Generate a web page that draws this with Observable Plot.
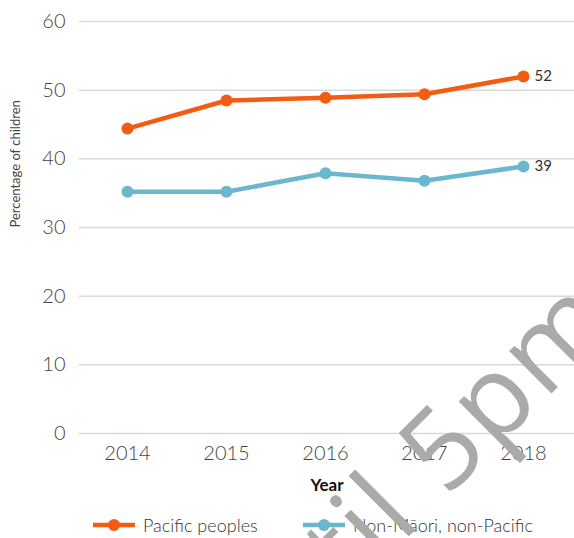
<!DOCTYPE html>
<html>
<head>
<meta charset="utf-8">
<script src="https://cdn.jsdelivr.net/npm/d3@7"></script>
<script src="https://cdn.jsdelivr.net/npm/@observablehq/plot@0.6"></script>
<style>
  html, body { margin: 0; padding: 0; background: #fff; }
  #wrap { position: relative; width: 574px; height: 538px; overflow: hidden; font-family: Lato, "Open Sans", sans-serif; }
  #legend { position: absolute; left: 0; top: 512px; width: 574px; height: 26px; font-size: 18px; color: #333; font-weight: 300; }
  .item { position: absolute; top: 0; display: flex; align-items: center; height: 26px; }
  .item svg { margin-right: 8px; }
  #wm { position: absolute; left: 0; top: 0; pointer-events: none; }
</style>
</head>
<body>
<div id="wrap">
  <div id="chart"></div>
  <div id="legend"></div>
  <svg id="wm" width="574" height="538"></svg>
</div>
<script>
const years = [2014, 2015, 2016, 2017, 2018];
const seriesNames = ["Pacific peoples", "Non-Māori, non-Pacific"];
const seriesColors = ["#F25C13", "#6AB7CF"];
const pacific = [44.4, 48.5, 48.9, 49.4, 52.0];
const nonMaori = [35.2, 35.2, 37.9, 36.8, 38.9];
const endLabels = ["52", "39"];
const yTicks = [0, 10, 20, 30, 40, 50, 60];
const yLabel = "Percentage of children";
const xLabel = "Year";
const watermark = "until 5pm";

const data = [];
years.forEach((yr, i) => {
  data.push({year: yr, value: pacific[i], series: seriesNames[0], label: endLabels[0]});
  data.push({year: yr, value: nonMaori[i], series: seriesNames[1], label: endLabels[1]});
});
const last = data.filter(d => d.year === years[years.length - 1]);

const chart = Plot.plot({
  width: 574,
  height: 505,
  marginLeft: 79,
  marginRight: 0,
  marginTop: 21,
  marginBottom: 72,
  style: {fontFamily: "Lato, 'Open Sans', sans-serif", background: "#fff", color: "#444"},
  x: {type: "point", domain: years, range: [126, 524], padding: 0},
  y: {domain: [0, 60]},
  color: {domain: seriesNames, range: seriesColors},
  marks: [
    Plot.gridY(yTicks, {stroke: "#d9d9d9", strokeOpacity: 1, strokeWidth: 1.5}),
    Plot.axisY(yTicks, {tickSize: 0, tickPadding: 14, fontSize: 20, fontWeight: 300, fill: "#444", label: null}),
    Plot.axisX(years, {tickSize: 0, tickPadding: 12, fontSize: 20, fontWeight: 300, fill: "#444", label: null, tickFormat: d => String(d)}),
    Plot.text([yLabel], {frameAnchor: "left", dx: -64, rotate: -90, fontSize: 13, fontWeight: 400, fill: "#444"}),
    Plot.text([xLabel], {frameAnchor: "bottom", dy: 57, fontSize: 17, fontWeight: "bold", fill: "#111"}),
    Plot.line(data, {x: "year", y: "value", z: "series", stroke: "series", strokeWidth: 4.5}),
    Plot.dot(data, {x: "year", y: "value", fill: "series", r: 6}),
    Plot.text(last, {x: "year", y: "value", text: "label", textAnchor: "start", dx: 11, fontSize: 15, fill: "#333"})
  ]
});
document.getElementById("chart").appendChild(chart);

const legend = document.getElementById("legend");
const lefts = [93, 303];
seriesNames.forEach((name, i) => {
  const it = document.createElement("div");
  it.className = "item";
  it.style.left = lefts[i] + "px";
  it.innerHTML = `<svg width="42" height="14"><line x1="0" x2="42" y1="7" y2="7" stroke="${seriesColors[i]}" stroke-width="4.5"/><circle cx="21" cy="7" r="6" fill="${seriesColors[i]}"/></svg><span>${name}</span>`;
  legend.appendChild(it);
});

// watermark, rotated so that its "5" sits where the reference shows it
const fs = 112;
const wm = d3.select("#wm");
const t = wm.append("text")
  .attr("x", 0).attr("y", 0)
  .attr("font-family", "'Open Sans', sans-serif")
  .attr("font-weight", 400)
  .attr("font-size", fs)
  .attr("letter-spacing", 3)
  .attr("fill", "#aaaaaa")
  .text(watermark);
const node = t.node();
const idx = watermark.indexOf("5");
let cx = 0, cy = -0.36 * fs;
try {
  const s = node.getStartPositionOfChar(idx);
  const e = node.getEndPositionOfChar(idx);
  cx = (s.x + e.x) / 2;
  cy = s.y - 0.36 * fs;
} catch (err) {}
t.attr("transform", `translate(442,446) rotate(-45) translate(${-cx},${-cy})`);
</script>
</body>
</html>
